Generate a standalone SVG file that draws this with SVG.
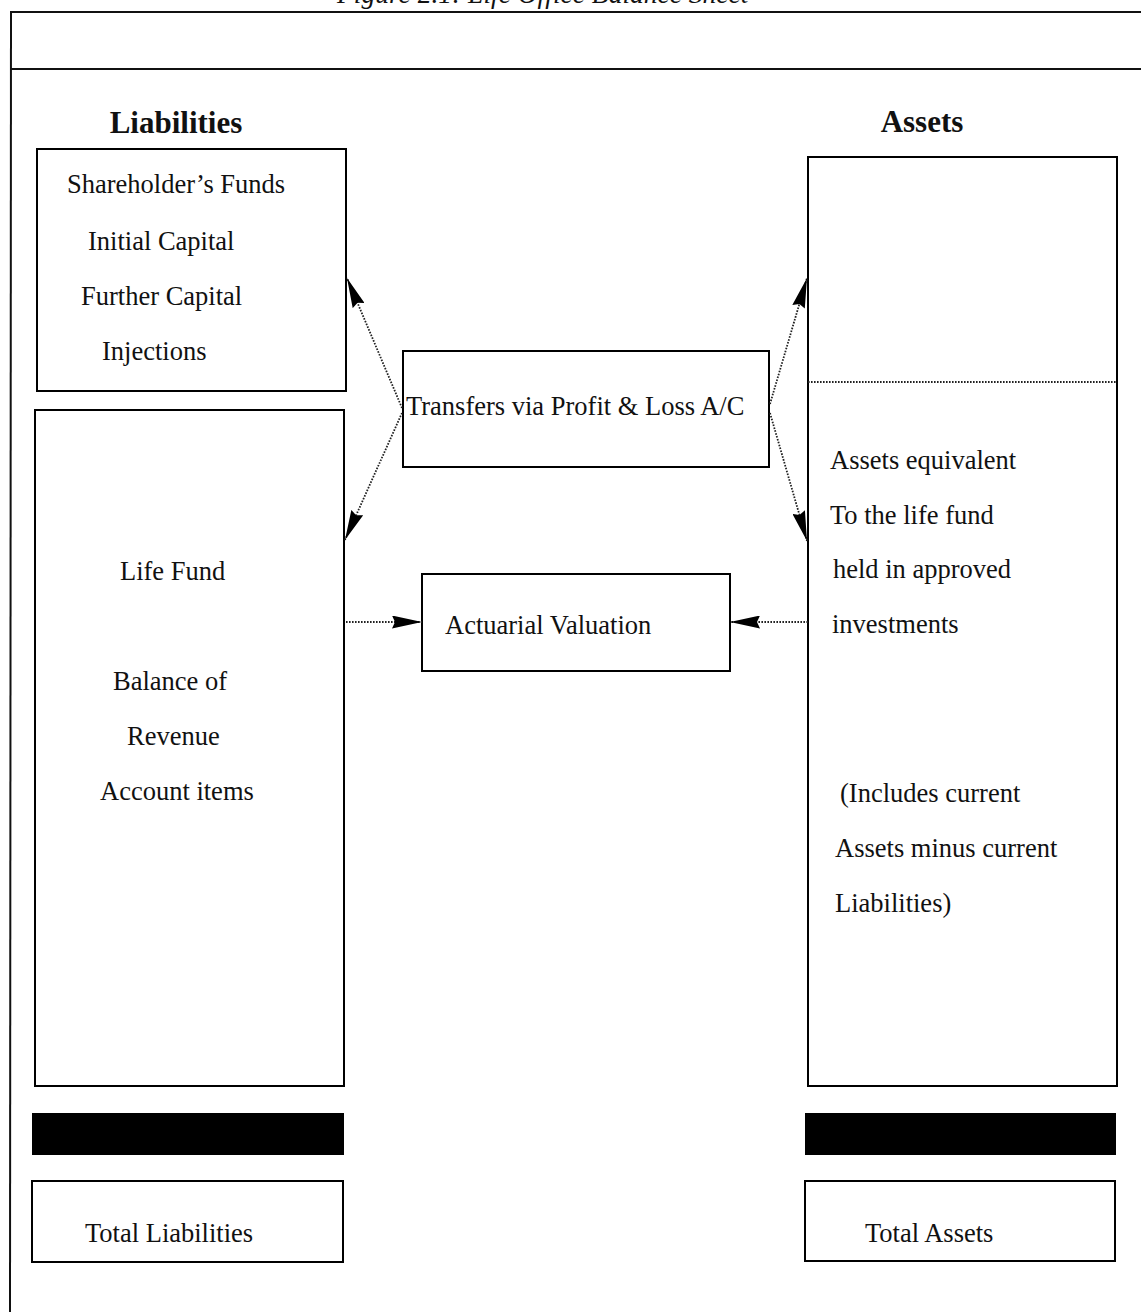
<svg xmlns="http://www.w3.org/2000/svg" width="1141" height="1312" viewBox="0 0 1141 1312">
<style>
.box{fill:none;stroke:#000;stroke-width:2}
.bar{fill:#000}
.t{font-family:"Liberation Serif","Times New Roman",serif;font-size:26.5px;fill:#111}
.h{font-family:"Liberation Serif","Times New Roman",serif;font-size:31px;font-weight:bold;fill:#111}
.title{font-family:"Liberation Serif","Times New Roman",serif;font-size:27.5px;font-style:italic;fill:#111}
.dot{fill:none;stroke:#222;stroke-width:1.8;stroke-dasharray:1.6 1.4}
.frame{fill:none;stroke:#111;stroke-width:2}
</style>
<defs>
<marker id="ah" markerUnits="userSpaceOnUse" markerWidth="30" markerHeight="13" refX="30" refY="6.5" orient="auto" viewBox="0 0 30 13">
<path d="M0,0 L30,6.5 L0,13 L3,6.5 z" fill="#000"/>
</marker>
</defs>
<rect width="1141" height="1312" fill="#fff"/>
<text class="title" x="337" y="3">Figure 2.1: Life Office Balance Sheet</text>
<g id="frame">
<line class="frame" x1="11" y1="12" x2="1141" y2="12"/>
<line class="frame" x1="11" y1="69" x2="1141" y2="69"/>
<line class="frame" x1="11" y1="11" x2="10" y2="1312"/>
</g>
<text class="h" x="176" y="133" text-anchor="middle">Liabilities</text>
<text class="h" x="922" y="132" text-anchor="middle">Assets</text>
<g id="shareholders">
<rect class="box" x="37" y="149" width="309" height="242"/>
<text class="t" x="67" y="193">Shareholder’s Funds</text>
<text class="t" x="88" y="250">Initial Capital</text>
<text class="t" x="81" y="305">Further Capital</text>
<text class="t" x="102" y="360">Injections</text>
</g>
<g id="lifefund">
<rect class="box" x="35" y="410" width="309" height="676"/>
<text class="t" x="120" y="580">Life Fund</text>
<text class="t" x="113" y="690">Balance of</text>
<text class="t" x="127" y="745">Revenue</text>
<text class="t" x="100" y="800">Account items</text>
</g>
<g id="assets">
<rect class="box" x="808" y="157" width="309" height="929"/>
<line class="dot" x1="808" y1="382" x2="1117" y2="382"/>
<text class="t" x="830" y="469">Assets equivalent</text>
<text class="t" x="830" y="524">To the life fund</text>
<text class="t" x="833" y="578">held in approved</text>
<text class="t" x="832" y="633">investments</text>
<text class="t" x="840" y="802">(Includes current</text>
<text class="t" x="835" y="857">Assets minus current</text>
<text class="t" x="835" y="912">Liabilities)</text>
</g>
<g id="transfers">
<rect class="box" x="403" y="351" width="366" height="116"/>
<text class="t" x="406" y="415">Transfers via Profit &amp; Loss A/C</text>
</g>
<g id="actuarial">
<rect class="box" x="422" y="574" width="308" height="97"/>
<text class="t" x="445" y="634">Actuarial Valuation</text>
</g>
<g id="liab-bar"><rect class="bar" x="32" y="1113" width="312" height="42"/></g>
<g id="asset-bar"><rect class="bar" x="805" y="1113" width="311" height="42"/></g>
<g id="total-liabilities">
<rect class="box" x="32" y="1181" width="311" height="81"/>
<text class="t" x="85" y="1242">Total Liabilities</text>
</g>
<g id="total-assets">
<rect class="box" x="805" y="1181" width="310" height="80"/>
<text class="t" x="865" y="1242">Total Assets</text>
</g>
<g id="connectors">
<line class="dot" x1="402" y1="408" x2="347" y2="278" marker-end="url(#ah)"/>
<line class="dot" x1="402" y1="413" x2="345" y2="540" marker-end="url(#ah)"/>
<line class="dot" x1="770" y1="404" x2="807" y2="278" marker-end="url(#ah)"/>
<line class="dot" x1="770" y1="413" x2="807" y2="541" marker-end="url(#ah)"/>
<line class="dot" x1="346" y1="622" x2="422" y2="622" marker-end="url(#ah)"/>
<line class="dot" x1="808" y1="622" x2="730" y2="622" marker-end="url(#ah)"/>
</g>
</svg>
